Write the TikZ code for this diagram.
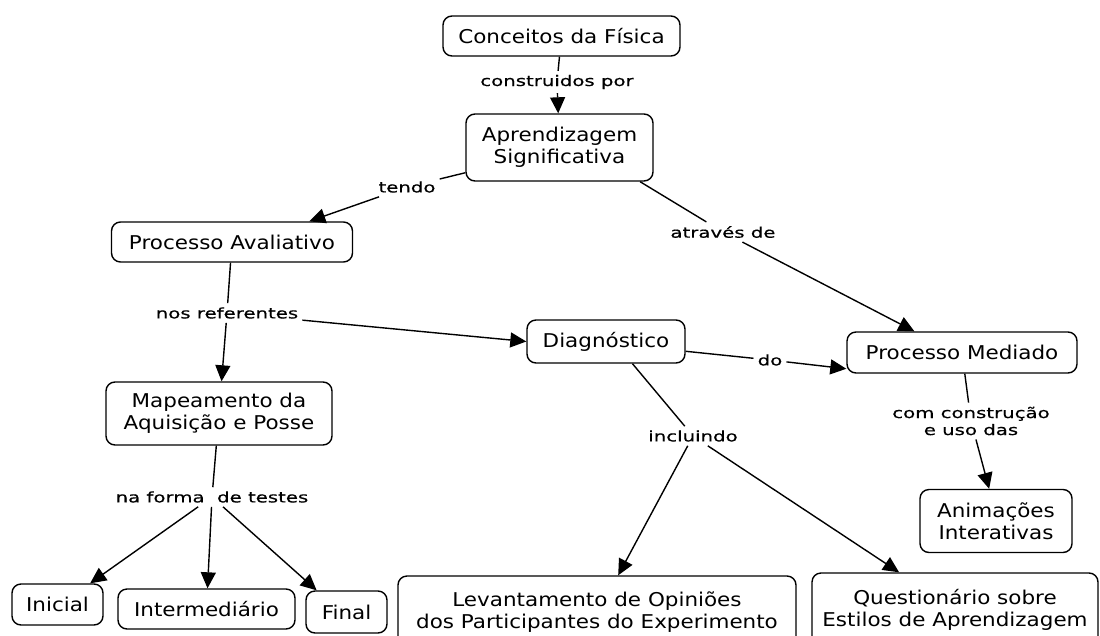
\documentclass[tikz,border=0pt]{standalone}
\usepackage{fontspec}
\setmainfont{DejaVu Sans}
\newfontfamily\nodefnt[FakeStretch=1.13]{DejaVu Sans}
\newfontfamily\labfnt[FakeStretch=1.36,FakeBold=0.5]{DejaVu Sans}
\usetikzlibrary{arrows.meta}
\tikzset{
  concept/.style={draw, line width=1.4pt, rounded corners=9pt, align=center,
    font=\nodefnt\fontsize{19}{22}\selectfont, inner sep=2pt},
  linklab/.style={align=center, font=\labfnt\fontsize{14.5}{17}\selectfont, inner sep=4pt},
  conn/.style={line width=1.4pt},
  arr/.style={conn, -{Triangle[length=16pt,width=15pt]}},
}
\begin{document}
\begin{tikzpicture}[x=1pt,y=-1pt]
\clip (0,0) rectangle (1100,635);
\fill[white] (0,0) rectangle (1100,635);
% concepts
\node[concept, minimum width=237pt, minimum height=40pt] (cf) at (561.5,36) {Conceitos da Física};
\node[concept, minimum width=187pt, minimum height=67pt] (as) at (559.5,147.5) {Aprendizagem\\Significativa};
\node[concept, minimum width=241pt, minimum height=40pt] (pa) at (232,242) {Processo Avaliativo};
\node[concept, minimum width=158pt, minimum height=43pt] (diag) at (606,341.5) {Diagnóstico};
\node[concept, minimum width=230pt, minimum height=41pt] (pm) at (962,352.5) {Processo Mediado};
\node[concept, minimum width=226pt, minimum height=63pt] (map) at (219,413.5) {Mapeamento da\\Aquisição e Posse};
\node[concept, minimum width=152pt, minimum height=63pt] (ai) at (996,521) {Animações\\Interativas};
\node[concept, minimum width=91pt, minimum height=41pt] (ini) at (57.5,604.5) {Inicial};
\node[concept, minimum width=177pt, minimum height=40pt] (int) at (206.5,609) {Intermediário};
\node[concept, minimum width=81pt, minimum height=42pt] (fin) at (346.5,612) {Final};
\node[concept, minimum width=398pt, minimum height=72pt] (lev) at (597,612) {Levantamento de Opiniões\\dos Participantes do Experimento};
\node[concept, minimum width=286pt, minimum height=74pt] (que) at (955,610) {Questionário sobre\\Estilos de Aprendizagem};
% linking phrases
\node[linklab] (lcp) at (557,82) {construidos por};
\node[linklab] (ltendo) at (407,187) {tendo};
\node[linklab] (lat) at (723,232) {através de};
\node[linklab] (lnr) at (227,313) {nos referentes};
\node[linklab] (ldo) at (770,360) {do};
\node[linklab] (linc) at (693,436) {incluindo};
\node[linklab] (lcc) at (971,421) {com construção\\e uso das};
\node[linklab] (lnf) at (212,497) {na forma\ \ de testes};
% connectors
\draw[conn] (cf) -- (lcp);
\draw[arr] (lcp) -- (as);
\draw[conn] (as.195) -- (ltendo);
\draw[arr] (ltendo) -- (pa.15);
\draw[conn] (as.-23) -- (lat);
\draw[arr] (lat) -- (pm.156);
\draw[conn] (pa) -- (lnr);
\draw[arr] (lnr) -- (map);
\draw[arr] (lnr) -- (diag.west);
\draw[conn] (diag.-7) -- (ldo);
\draw[arr] (ldo) -- (pm.188);
\draw[conn] (diag.-40) -- (linc);
\draw[arr] (linc) -- (lev.60);
\draw[arr] (linc) -- (que.146);
\draw[conn] (pm) -- (lcc);
\draw[arr] (lcc) -- (ai.102);
\draw[conn] (map) -- (lnf);
\draw[arr] (lnf) -- (ini.33);
\draw[arr] (lnf) -- (int);
\draw[arr] (lnf) -- (fin.144);
\end{tikzpicture}
\end{document}
